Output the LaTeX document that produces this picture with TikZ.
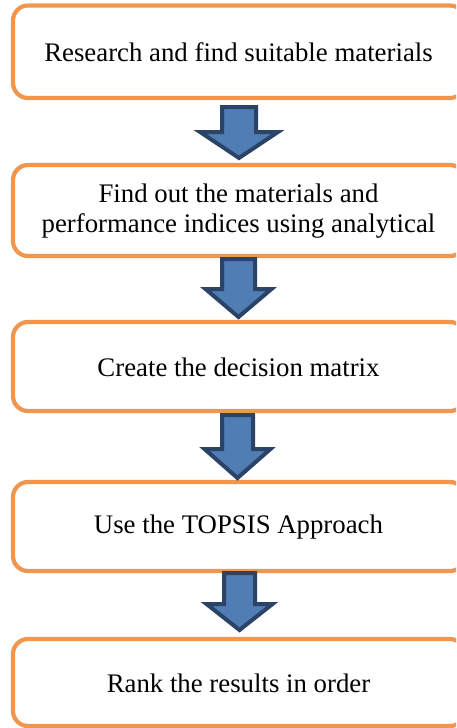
\documentclass[tikz,border=0pt]{standalone}
\usepackage{fontspec}
\setmainfont{Liberation Serif}
\usetikzlibrary{calc}
\definecolor{boxorange}{HTML}{F0964E}
\definecolor{arrowfill}{HTML}{4F7DB4}
\definecolor{arrowline}{HTML}{2B4366}
\tikzset{
  stepbox/.style={draw=boxorange, line width=4.2pt, rounded corners=15pt, fill=white},
  steptext/.style={font=\fontsize{26.8}{30}\selectfont, align=center, text=black},
  blockarrow/.style={draw=arrowline, fill=arrowfill, line width=4pt, line join=miter}
}
\begin{document}
\begin{tikzpicture}[x=1pt,y=-1pt]
\useasboundingbox (0,0) rectangle (456,728);
\clip (0,0) rectangle (456,728);
% boxes
\draw[stepbox] (13,5.5) rectangle (465,98);
\draw[stepbox] (13,165) rectangle (465,256);
\draw[stepbox] (13,322) rectangle (465,411);
\draw[stepbox] (13,482) rectangle (465,571);
\draw[stepbox] (13,639) rectangle (465,726);
\node[steptext] (b1) at (238.5,52) {Research and find suitable materials};
\node[steptext] (b2) at (238.5,211.5) {Find out the materials and\\performance indices using analytical};
\node[steptext] (b3) at (238.5,367) {Create the decision matrix};
\node[steptext] (b4) at (238.5,527) {Use the TOPSIS Approach};
\node[steptext] (b5) at (238.5,683) {Rank the results in order};
% block arrows: centre x, shaft top y, head y, tip y, shaft half width, head half width
\newcommand{\blkarrow}[6]{%
  \draw[blockarrow] (#1-#5,#2) -- (#1+#5,#2) -- (#1+#5,#3) -- (#1+#6,#3)
    -- (#1,#4) -- (#1-#6,#3) -- (#1-#5,#3) -- cycle;}
\blkarrow{239}{107}{132}{158}{17}{39}
\blkarrow{238.5}{259}{289}{317}{16.5}{33}
\blkarrow{237.5}{415}{449}{478}{15.5}{33}
\blkarrow{239.5}{573}{604}{630}{15.5}{33}
\end{tikzpicture}
\end{document}
